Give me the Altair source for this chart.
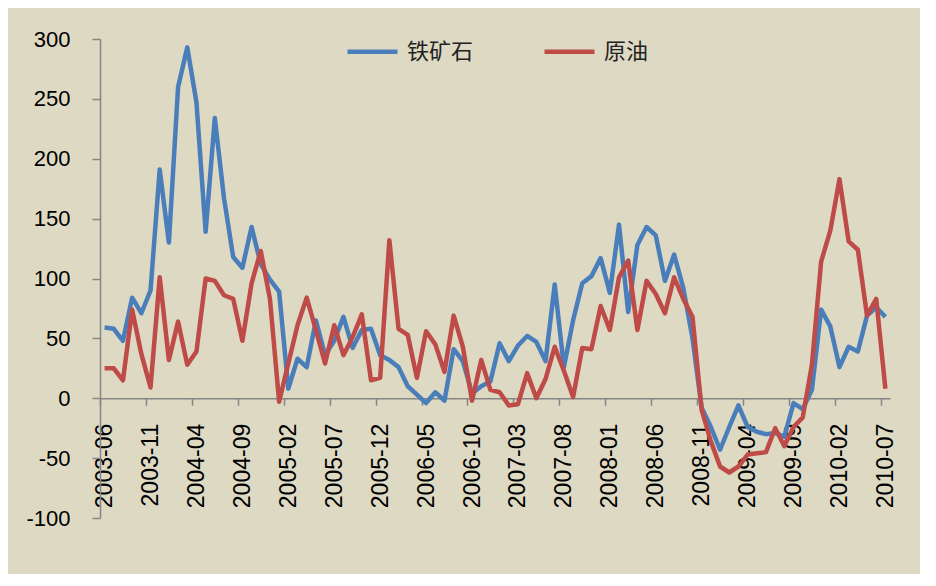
import altair as alt
import pandas as pd

# Tick labels (every 5 months, 2003-06 .. 2010-07)
tick_labels = ["2003-06", "2003-11", "2004-04", "2004-09", "2005-02", "2005-07",
               "2005-12", "2006-05", "2006-10", "2007-03", "2007-08", "2008-01",
               "2008-06", "2008-11", "2009-04", "2009-09", "2010-02", "2010-07"]

series_names = ["铁矿石", "原油"]

iron_ore = [59, 58, 48, 84, 71, 90, 191, 130, 260, 293,
            247, 139, 234, 167, 118, 109, 143, 112, 99, 89,
            8, 33, 26, 65, 36, 48, 68, 42, 57, 58,
            36, 32, 26, 10, 3, -4, 5, -2, 41, 31,
            4, 10, 14, 46, 31, 44, 52, 47, 31, 95,
            26, 65, 96, 102, 117, 88, 145, 72, 128, 143,
            136, 98, 120, 92, 50, -8, -24, -43, -24, -6,
            -24, -28, -30, -29, -32, -4, -9, 7, 74, 60,
            26, 43, 39, 69, 76, 68]

crude_oil = [25, 25, 15, 74, 37, 9, 101, 32, 64, 28,
             39, 100, 98, 86, 83, 48, 96, 123, 83, -3,
             29, 61, 84, 57, 29, 61, 36, 51, 70, 15,
             17, 132, 58, 53, 17, 56, 45, 22, 69, 43,
             -2, 32, 7, 5, -6, -5, 21, 0, 16, 43,
             23, 1, 42, 41, 77, 57, 101, 115, 57, 98,
             87, 71, 101, 83, 68, -10, -36, -57, -62, -57,
             -47, -46, -45, -25, -40, -24, -16, 28, 114, 140,
             183, 131, 124, 69, 83, 8]

colors = ["#4A7EBB", "#BE4B48"]

rows = []
for name, vals in zip(series_names, [iron_ore, crude_oil]):
    for i, v in enumerate(vals):
        rows.append({"i": i, "value": v, "series": name})
df = pd.DataFrame(rows)

n = len(iron_ore)
W, H = 790, 479
half_band = W / n / 2
y_min, y_max = -100, 300
zero_offset = -(0 - y_min) / (y_max - y_min) * H

label_expr = "[" + ",".join(f"'{t}'" for t in tick_labels) + "][round(datum.value/5)]"

axis_color = "#868686"

x = alt.X("i:Q",
          scale=alt.Scale(domain=[-0.5, n - 0.5], nice=False, zero=False),
          axis=alt.Axis(values=list(range(0, n, 5)), labelExpr=label_expr,
                        labelAngle=270, labelAlign="right", labelBaseline="middle",
                        tickOffset=-half_band, labelOffset=half_band,
                        offset=zero_offset, tickSize=7, labelPadding=18,
                        labelFontSize=23, labelFont="Liberation Sans", labelColor="#000000",
                        domainColor=axis_color, tickColor=axis_color,
                        domainWidth=1.5, tickWidth=1.5, grid=False, title=None,
                        labelOverlap=False))
y = alt.Y("value:Q",
          scale=alt.Scale(domain=[y_min, y_max], nice=False, zero=False),
          axis=alt.Axis(values=list(range(y_min, y_max + 1, 50)), tickSize=8,
                        labelExpr="'' + datum.value",
                        labelPadding=22, labelFontSize=22, labelFont="Liberation Sans",
                        labelColor="#000000", domainColor=axis_color, tickColor=axis_color,
                        domainWidth=1.5, tickWidth=1.5, grid=False, title=None))
color = alt.Color("series:N",
                  scale=alt.Scale(domain=series_names, range=colors),
                  legend=alt.Legend(title=None, orient="none", direction="horizontal",
                                    legendX=245, legendY=-15, symbolType="stroke",
                                    symbolSize=2500, symbolStrokeWidth=4.5,
                                    labelFontSize=22, labelFont="Noto Sans CJK SC",
                                    labelColor="#222222", labelOffset=7,
                                    columnPadding=61))

base = alt.Chart(df)
lines = []
for name in series_names:
    lines.append(base.transform_filter(alt.datum.series == name)
                 .mark_line(strokeWidth=4.5, strokeJoin="round")
                 .encode(x=x, y=y, color=color))

chart = alt.layer(*lines).properties(
    width=W, height=H,
    autosize=alt.AutoSizeParams(type="none"),
    padding={"left": 92, "top": 31, "right": 30, "bottom": 56},
    background="#DDD9C3",
).configure_view(stroke=None)

chart.save("out.html", embed_options={"renderer": "svg", "actions": False})
